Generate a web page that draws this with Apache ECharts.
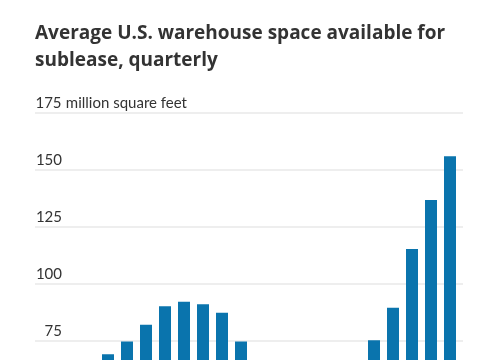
<!DOCTYPE html>
<html>
<head>
<meta charset="utf-8">
<script src="https://cdn.jsdelivr.net/npm/echarts@6/dist/echarts.min.js"></script>
<style>
html,body{margin:0;padding:0;background:#fff;overflow:hidden;}
#c{width:485px;height:560px;}
</style>
</head>
<body>
<div id="c"></div>
<script>
var categories = ['2018 Q2','2018 Q3','2018 Q4','2019 Q1','2019 Q2','2019 Q3','2019 Q4','2020 Q1','2020 Q2','2020 Q3','2020 Q4','2021 Q1','2021 Q2','2021 Q3','2021 Q4','2022 Q1','2022 Q2','2022 Q3','2022 Q4','2023 Q1','2023 Q2','2023 Q3'];
var sublease = [62, 63, 66, 69.2, 74.8, 82.1, 90.2, 92.2, 91.1, 87.4, 74.8, 66, 58, 52, 50, 55, 63, 75.3, 89.6, 115.4, 136.8, 156.0];
var yTicks = [0, 25, 50, 75, 100, 125, 150, 175];
var yUnit = 'million square feet';

var chart = echarts.init(document.getElementById('c'), null, {renderer:'canvas'});
var labelFont = "Lato, sans-serif";
chart.setOption({
  animation:false,
  title:{
    text:'Average U.S. warehouse space available for\nsublease, quarterly',
    left:35, top:20, padding:0,
    textStyle:{fontFamily:"'Open Sans', sans-serif", fontWeight:'bold', fontSize:19, lineHeight:27, color:'#333'}
  },
  grid:[
    {left:35, right:22, top:113, bottom:48},
    {left:41.5, right:25.5, top:113, bottom:48}
  ],
  xAxis:[
    {gridIndex:0, type:'category', data:categories, show:false},
    {gridIndex:1, type:'category', data:categories,
     axisLine:{show:false}, axisTick:{show:false},
     axisLabel:{show:false}}
  ],
  yAxis:[
    {gridIndex:0, type:'value', min:yTicks[0], max:yTicks[yTicks.length-1], interval:25,
     axisLine:{show:false}, axisTick:{show:false},
     splitLine:{lineStyle:{color:'#e8e8e8', width:1.5}},
     axisLabel:{inside:true, margin:0, align:'left', verticalAlign:'bottom', padding:[0,0,2,0],
       fontFamily:labelFont, fontSize:15, color:'#333',
       formatter:function(v){ return v===175 ? '{n|'+v+'} '+yUnit : '{n|'+v+'}'; },
       rich:{n:{width:27, align:'right', fontFamily:labelFont, fontSize:15, color:'#333'}}
     }},
    {gridIndex:1, type:'value', min:yTicks[0], max:yTicks[yTicks.length-1], interval:25, show:false, splitLine:{show:false}}
  ],
  series:[{
    type:'bar', xAxisIndex:1, yAxisIndex:1, data:sublease,
    barWidth:12,
    itemStyle:{color:'#0a74ad'}
  }]
});
</script>
</body>
</html>
